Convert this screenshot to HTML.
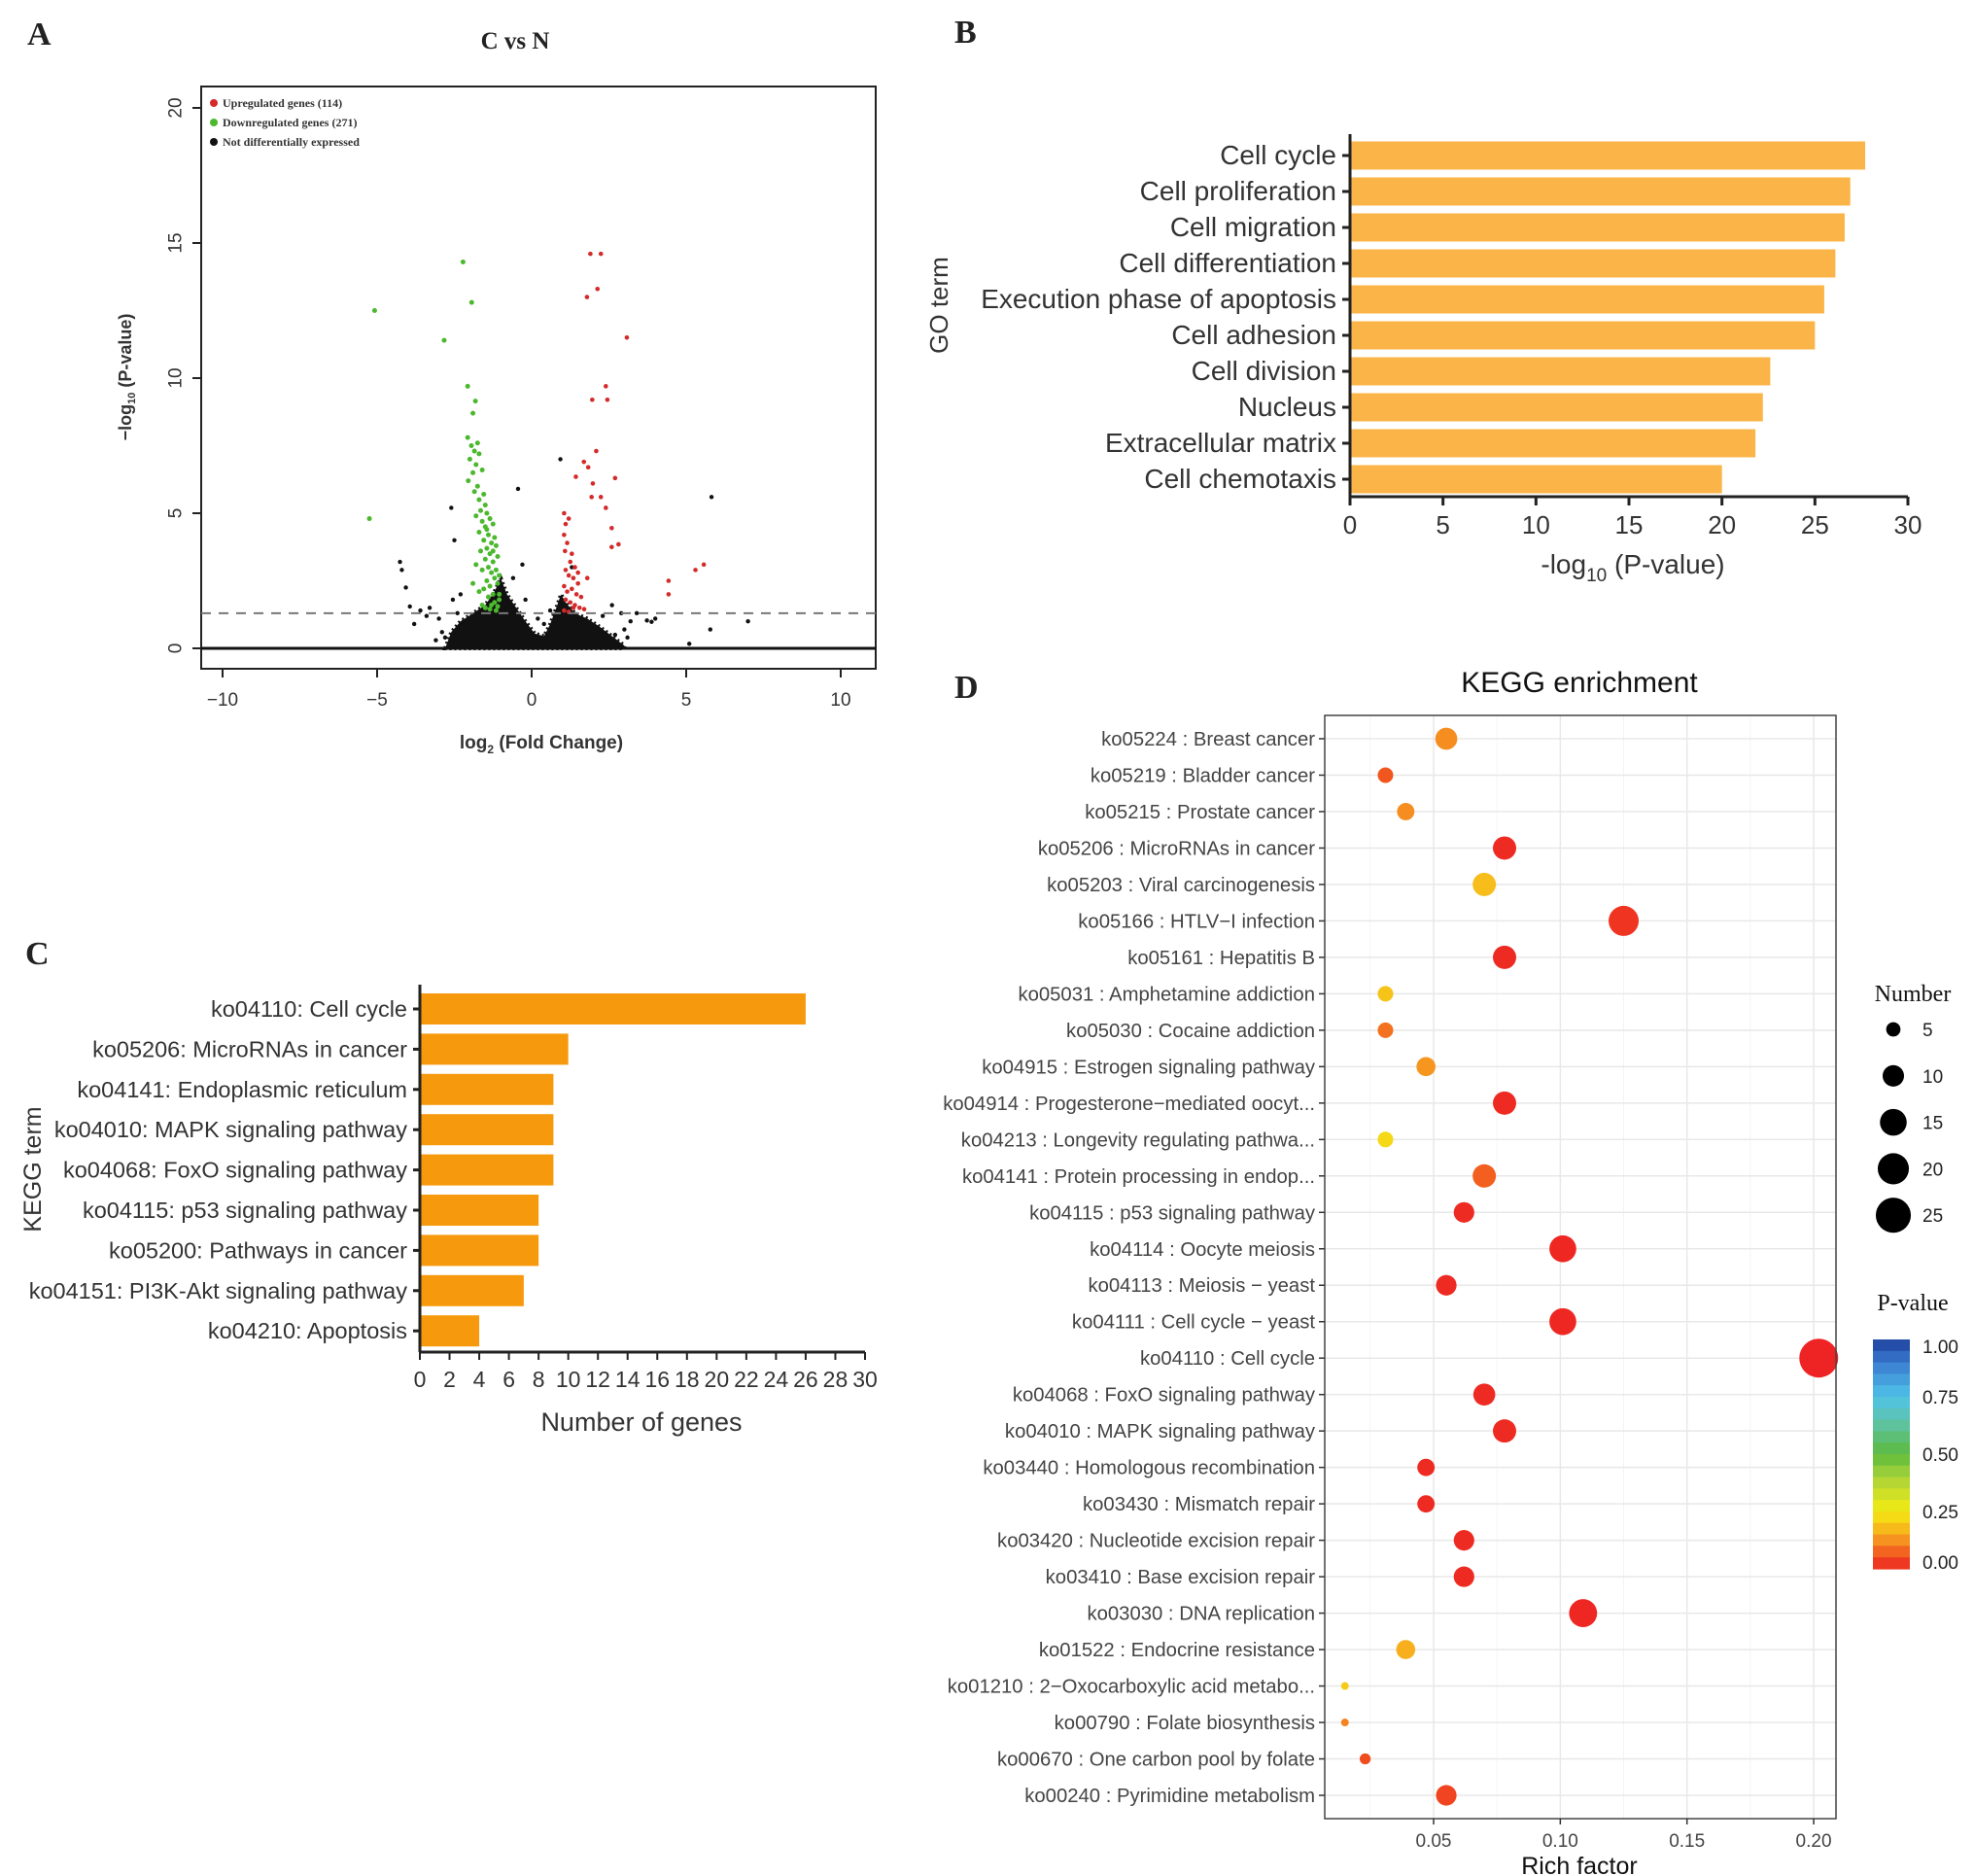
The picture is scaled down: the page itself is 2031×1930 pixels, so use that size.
<!DOCTYPE html>
<html><head><meta charset="utf-8">
<style>
html,body{margin:0;padding:0;background:#fff;}
svg{display:block;}
.serif{font-family:"Liberation Serif",serif;}
.sans{font-family:"Liberation Sans",sans-serif;}
.narrow{font-family:"Liberation Sans Narrow","Liberation Sans",sans-serif;}
</style></head>
<body>
<svg id="fig" width="2031" height="1930" viewBox="0 0 2031 1930" xmlns="http://www.w3.org/2000/svg"></svg>
<script>
// ===== Panel A: volcano data =====
const volDownX=[-5.08,-2.22,-1.94,-2.83,-5.25,-2.07,-1.82,-1.9,-2.07,-1.95,-1.85,-1.75,-2.0,-1.8,-1.7,-1.9,-2.05,-1.6,-1.75,-1.85,-1.55,-1.7,-1.5,-1.65,-1.45,-1.8,-1.6,-1.35,-1.5,-1.7,-1.4,-1.25,-1.55,-1.3,-1.2,-1.45,-1.65,-1.35,-1.15,-1.5,-1.25,-1.1,-1.4,-1.6,-1.3,-1.15,-1.2,-1.45,-1.05,-1.35,-1.55,-1.1,-1.25,-1.4,-1.7,-1.05,-1.2,-1.3,-1.5,-1.1,-1.8,-1.9,-1.15,-1.35,-1.05,-1.6,-1.25,-1.45];
const volDownY=[12.5,14.3,12.8,11.4,4.8,9.7,9.15,8.7,7.8,7.5,7.3,7.6,7.0,6.8,7.2,6.5,6.2,6.6,6.0,5.8,5.7,5.5,5.3,5.1,5.0,4.9,4.7,4.8,4.5,4.3,4.2,4.6,4.0,3.9,4.1,3.7,3.6,3.5,3.8,3.3,3.2,3.4,3.0,2.9,2.8,2.9,2.6,2.5,2.7,2.3,2.2,2.4,2.0,1.9,2.1,1.8,1.7,1.6,1.5,1.55,3.1,2.4,1.4,1.45,2.0,1.6,3.6,4.4];
const volUpX=[1.9,2.24,2.13,1.79,3.08,2.4,1.96,2.45,2.09,1.69,1.83,2.7,1.43,1.98,1.94,2.24,2.4,5.3,5.57,4.43,4.43,2.81,2.59,2.59,1.05,1.1,1.2,1.05,1.15,1.3,1.08,1.25,1.4,1.1,1.2,1.35,1.5,1.05,1.15,1.3,1.45,1.6,1.1,1.25,1.4,1.55,1.7,1.05,1.2,1.35,1.8,1.5];
const volUpY=[14.6,14.6,13.3,13.0,11.5,9.7,9.2,9.2,7.3,6.9,6.7,6.3,6.35,6.1,5.6,5.6,5.2,2.9,3.1,2.5,2.0,3.85,3.75,4.45,5.0,4.6,4.8,4.2,3.9,3.5,3.6,3.2,3.0,2.9,2.7,2.6,2.4,2.3,2.1,2.2,2.0,1.9,1.8,1.7,1.6,1.5,1.45,1.4,1.35,1.5,2.6,2.8];
const volNsX=[0.93,-0.44,-2.6,-2.5,5.82,-4.26,-4.2,-4.07,-3.94,7.0,5.78,5.1,3.73,3.88,-3.3,-2.55,-2.9,-3.6,-3.4,-2.2,-0.3,0.2,2.9,3.2,3.0,-0.6,-3.0,2.6,3.4,-3.8,4.0,-2.3,1.3,0.6,-2.8,-2.4,-0.2,0.4,2.3,2.7,-3.1,3.1];
const volNsY=[7.0,5.9,5.2,4.0,5.6,3.2,2.9,2.25,1.55,1.0,0.7,0.17,1.03,0.98,1.5,1.8,0.6,1.4,1.2,1.0,3.1,1.1,1.3,1.0,0.7,2.6,1.1,1.6,1.3,0.9,1.1,2.0,3.0,1.4,0.4,1.3,1.8,0.9,1.2,0.5,0.3,0.4];
// density cloud outline of non-DE genes (x, y in data units)
const cloudX=[-2.8,-2.6,-2.3,-1.9,-1.5,-1.2,-1.0,-0.8,-0.5,-0.2,0.1,0.4,0.6,0.8,0.95,1.1,1.4,1.8,2.2,2.6,3.0,3.0,-2.8];
const cloudY=[0,0.6,1.0,1.3,1.6,2.1,2.6,2.0,1.5,1.0,0.55,0.45,0.9,1.5,2.0,1.7,1.3,1.1,0.8,0.45,0.1,0,0];
const volYTicks=[0,5,10,15,20];
const volXTicks=[-10,-5,0,5,10];

// ===== Panel B: GO =====
const goTerms=["Cell cycle","Cell proliferation","Cell migration","Cell differentiation","Execution phase of apoptosis","Cell adhesion","Cell division","Nucleus","Extracellular matrix","Cell chemotaxis"];
const goValues=[27.7,26.9,26.6,26.1,25.5,25.0,22.6,22.2,21.8,20.0];
const goTicks=[0,5,10,15,20,25,30];

// ===== Panel C: KEGG bars =====
const keggTerms=["ko04110: Cell cycle","ko05206: MicroRNAs in cancer","ko04141: Endoplasmic reticulum","ko04010: MAPK signaling pathway","ko04068: FoxO signaling pathway","ko04115: p53 signaling pathway","ko05200: Pathways in cancer","ko04151: PI3K-Akt signaling pathway","ko04210: Apoptosis"];
const keggCounts=[26,10,9,9,9,8,8,7,4];
const keggTicks=[0,2,4,6,8,10,12,14,16,18,20,22,24,26,28,30];

// ===== Panel D: KEGG enrichment =====
const dTerms=["ko05224 : Breast cancer","ko05219 : Bladder cancer","ko05215 : Prostate cancer","ko05206 : MicroRNAs in cancer","ko05203 : Viral carcinogenesis","ko05166 : HTLV\u2212I infection","ko05161 : Hepatitis B","ko05031 : Amphetamine addiction","ko05030 : Cocaine addiction","ko04915 : Estrogen signaling pathway","ko04914 : Progesterone\u2212mediated oocyt...","ko04213 : Longevity regulating pathwa...","ko04141 : Protein processing in endop...","ko04115 : p53 signaling pathway","ko04114 : Oocyte meiosis","ko04113 : Meiosis \u2212 yeast","ko04111 : Cell cycle \u2212 yeast","ko04110 : Cell cycle","ko04068 : FoxO signaling pathway","ko04010 : MAPK signaling pathway","ko03440 : Homologous recombination","ko03430 : Mismatch repair","ko03420 : Nucleotide excision repair","ko03410 : Base excision repair","ko03030 : DNA replication","ko01522 : Endocrine resistance","ko01210 : 2\u2212Oxocarboxylic acid metabo...","ko00790 : Folate biosynthesis","ko00670 : One carbon pool by folate","ko00240 : Pyrimidine metabolism"];
const dRich=[0.055,0.031,0.039,0.078,0.070,0.125,0.078,0.031,0.031,0.047,0.078,0.031,0.070,0.062,0.101,0.055,0.101,0.202,0.070,0.078,0.047,0.047,0.062,0.062,0.109,0.039,0.015,0.015,0.023,0.055];
const dCount=[9,5,6,10,10,16,10,5,5,7,10,5,10,8,13,8,13,26,9,10,6,6,8,8,14,7,2,2,3,8];
const dPval=[0.12,0.06,0.12,0.01,0.18,0.02,0.01,0.19,0.09,0.13,0.01,0.22,0.07,0.01,0.005,0.01,0.005,0.0,0.01,0.01,0.01,0.01,0.01,0.01,0.005,0.16,0.2,0.11,0.05,0.04];
const dXTicks=[0.05,0.10,0.15,0.20];
const legendNums=[5,10,15,20,25];
const pTicks=[1.00,0.75,0.50,0.25,0.00];

const NS="http://www.w3.org/2000/svg";
const svg=document.getElementById('fig');
function mk(tag,attrs,parent,txt){const e=document.createElementNS(NS,tag);for(const k in attrs)e.setAttribute(k,attrs[k]);if(txt!==undefined)e.textContent=txt;(parent||svg).appendChild(e);return e;}
function grp(name){const g=mk('g',{});return g;}

[["A",28,46],["B",982,44],["C",26,992],["D",982,718]].forEach(p=>{
  const t=mk('text',{x:p[1],y:p[2],'font-size':34,'font-weight':'bold',class:'serif',fill:'#222'},svg,p[0]);
  
  
});

// ===== Panel A =====
(function(){
  const g=grp('volcano-plot');
  const L=207,R=901,T=89,B=688;
  const xA=v=>547+v*31.8, yA=v=>667-v*27.8;
  const t=mk('text',{x:530,y:50,'text-anchor':'middle','font-size':25,'font-weight':'bold',class:'serif',fill:'#222'},g,'C vs N');
  
  const fr=mk('rect',{x:L,y:T,width:R-L,height:B-T,fill:'none',stroke:'#222','stroke-width':2},g);
  
  let d='';cloudX.forEach((x,i)=>{d+=(i?'L':'M')+xA(x).toFixed(1)+' '+yA(cloudY[i]).toFixed(1);});
  const cl=mk('path',{d:d+'Z',fill:'#111',stroke:'#111','stroke-width':4,'stroke-dasharray':'2 3'},g);
  
  volNsX.forEach((x,i)=>{const c=mk('circle',{cx:xA(x),cy:yA(volNsY[i]),r:2.2,fill:'#111'},g);
    });
  volDownX.forEach((x,i)=>{const c=mk('circle',{cx:xA(x),cy:yA(volDownY[i]),r:2.5,fill:'#4cb82e'},g);
    });
  volUpX.forEach((x,i)=>{const c=mk('circle',{cx:xA(x),cy:yA(volUpY[i]),r:2.3,fill:'#d42a2a'},g);
    });
  const th=mk('line',{x1:L,x2:R,y1:yA(1.3),y2:yA(1.3),stroke:'#777','stroke-width':2,'stroke-dasharray':'10 8'},g);
  
  const zl=mk('line',{x1:L,x2:R,y1:yA(0),y2:yA(0),stroke:'#111','stroke-width':3},g);
  
  volYTicks.forEach(v=>{const y=yA(v);mk('line',{x1:L-9,x2:L,y1:y,y2:y,stroke:'#222','stroke-width':2},g);
    const tx=mk('text',{x:181,y:y,'text-anchor':'middle','font-size':19,class:'sans',fill:'#333',transform:`rotate(-90 181 ${y})`,'dominant-baseline':'central'},g,String(v));
    });
  volXTicks.forEach(v=>{const x=xA(v);mk('line',{x1:x,x2:x,y1:B,y2:B+9,stroke:'#222','stroke-width':2},g);
    const tx=mk('text',{x:x,y:726,'text-anchor':'middle','font-size':19,class:'sans',fill:'#333'},g,v<0?'\u2212'+(-v):String(v));
    });
  const xt=mk('text',{x:557,y:770,'text-anchor':'middle','font-size':19,'font-weight':'bold',class:'sans',fill:'#333'},g);
  xt.innerHTML='log<tspan font-size="12" dy="5">2</tspan><tspan dy="-5"> (Fold Change)</tspan>';
  
  const yt=mk('text',{x:135,y:388,'text-anchor':'middle','font-size':18,'font-weight':'bold',class:'sans',fill:'#333',transform:'rotate(-90 135 388)'},g);
  yt.innerHTML='\u2212log<tspan font-size="11" dy="4">10</tspan><tspan dy="-4"> (P-value)</tspan>';
  
  [["Upregulated genes (114)",'#d42a2a'],["Downregulated genes (271)",'#4cb82e'],["Not differentially expressed",'#111']].forEach((l,i)=>{
    const lg=mk('g',{},g);
    mk('circle',{cx:220,cy:106+i*20,r:4,fill:l[1]},lg);
    mk('text',{x:229,y:110+i*20,'font-size':12,'font-weight':'bold',class:'serif',fill:'#333'},lg,l[0]);
  });
})();

// ===== Panel B =====
(function(){
  const g=grp('go-bar-chart');
  const x0=1389,pxu=(1963-1389)/30,axY=511,c0=160,pitch=37,bh=29;
  const xB=v=>x0+v*pxu;
  goValues.forEach((v,i)=>{const cy=c0+i*pitch;
    const r=mk('rect',{x:x0,y:cy-bh/2,width:xB(v)-x0,height:bh,fill:'#fbb448'},g);
    
    mk('line',{x1:x0-8,x2:x0,y1:cy,y2:cy,stroke:'#222','stroke-width':3},g);
    const t=mk('text',{x:x0-14,y:cy+9,'text-anchor':'end','font-size':28,class:'narrow',fill:'#333'},g,goTerms[i]);
    
  });
  mk('line',{x1:x0,x2:x0,y1:138,y2:axY,stroke:'#222','stroke-width':3},g);
  mk('line',{x1:x0,x2:xB(30),y1:axY,y2:axY,stroke:'#222','stroke-width':3},g);
  goTicks.forEach(v=>{const x=xB(v);mk('line',{x1:x,x2:x,y1:axY,y2:axY+9,stroke:'#222','stroke-width':3},g);
    const t=mk('text',{x:x,y:549,'text-anchor':'middle','font-size':26,class:'narrow',fill:'#333'},g,String(v));
    });
  const xt=mk('text',{x:1680,y:590,'text-anchor':'middle','font-size':28,class:'narrow',fill:'#333'},g);
  xt.innerHTML='-log<tspan font-size="19" dy="8">10</tspan><tspan dy="-8"> (P-value)</tspan>';
  
  const yt=mk('text',{x:975,y:314,'text-anchor':'middle','font-size':26,class:'narrow',fill:'#333',transform:'rotate(-90 975 314)'},g,'GO  term');
  
})();

// ===== Panel C =====
(function(){
  const g=grp('kegg-bar-chart');
  const x0=432,pxu=(890-432)/30,axY=1391,c0=1038,pitch=41.4,bh=32;
  const xC=v=>x0+v*pxu;
  keggCounts.forEach((v,i)=>{const cy=c0+i*pitch;
    const r=mk('rect',{x:x0,y:cy-bh/2,width:xC(v)-x0,height:bh,fill:'#f7990c'},g);
    
    mk('line',{x1:x0-7,x2:x0,y1:cy,y2:cy,stroke:'#222','stroke-width':3},g);
    const t=mk('text',{x:x0-13,y:cy+8,'text-anchor':'end','font-size':23.5,class:'narrow',fill:'#333'},g,keggTerms[i]);
    
  });
  mk('line',{x1:x0,x2:x0,y1:1013,y2:axY,stroke:'#222','stroke-width':3},g);
  mk('line',{x1:x0,x2:xC(30),y1:axY,y2:axY,stroke:'#222','stroke-width':3},g);
  keggTicks.forEach(v=>{const x=xC(v);mk('line',{x1:x,x2:x,y1:axY,y2:axY+8,stroke:'#222','stroke-width':2},g);
    const t=mk('text',{x:x,y:1427,'text-anchor':'middle','font-size':23,class:'narrow',fill:'#333'},g,String(v));
    });
  const xt=mk('text',{x:660,y:1472,'text-anchor':'middle','font-size':27,class:'narrow',fill:'#333'},g,'Number of genes');
  
  const yt=mk('text',{x:42,y:1203,'text-anchor':'middle','font-size':25,class:'narrow',fill:'#333',transform:'rotate(-90 42 1203)'},g,'KEGG  term');
  
})();

// ===== Panel D =====
const pStops=[[0,'#ee2323'],[0.05,'#f04d1f'],[0.1,'#f47b20'],[0.15,'#f8a81f'],[0.2,'#f6cb18'],[0.25,'#f4ec12'],[0.4,'#a9d33a'],[0.5,'#5cbb3b'],[0.65,'#5ec3b0'],[0.75,'#4fc3e8'],[0.9,'#3a7bd0'],[1,'#1c3f9a']];
function hex2rgb(h){return [1,3,5].map(i=>parseInt(h.substr(i,2),16));}
function pcolor(p){for(let i=1;i<pStops.length;i++){if(p<=pStops[i][0]){const a=pStops[i-1],b=pStops[i];const t=(p-a[0])/(b[0]-a[0]);const ca=hex2rgb(a[1]),cb=hex2rgb(b[1]);return 'rgb('+ca.map((c,k)=>Math.round(c+(cb[k]-c)*t)).join(',')+')';}}return pStops[pStops.length-1][1];}
function rad(n){return Math.sqrt(Math.max(16*n-16,14));}
(function(){
  const g=grp('kegg-enrichment-dotplot');
  const L=1363,R=1889,T=736,B=1871,r0=760,pitch=(1847-760)/29;
  const xD=v=>1475+(v-0.05)*2607;
  const t=mk('text',{x:1625,y:712,'text-anchor':'middle','font-size':30,class:'sans',fill:'#111'},g,'KEGG  enrichment');
  
  mk('rect',{x:L,y:T,width:R-L,height:B-T,fill:'#fff'},g);
  [0.025,0.075,0.125,0.175].forEach(v=>mk('line',{x1:xD(v),x2:xD(v),y1:T,y2:B,stroke:'#f4f4f4','stroke-width':1},g));
  dXTicks.forEach(v=>mk('line',{x1:xD(v),x2:xD(v),y1:T,y2:B,stroke:'#e8e8e8','stroke-width':1.5},g));
  dTerms.forEach((n,i)=>{const y=r0+i*pitch;mk('line',{x1:L,x2:R,y1:y,y2:y,stroke:'#e8e8e8','stroke-width':1.5},g);});
  dTerms.forEach((n,i)=>{const y=r0+i*pitch;
    mk('line',{x1:L-6,x2:L,y1:y,y2:y,stroke:'#333','stroke-width':1.5},g);
    const tx=mk('text',{x:L-10,y:y+7,'text-anchor':'end','font-size':20.3,class:'sans',fill:'#444'},g,n);
    
    const c=mk('circle',{cx:xD(dRich[i]),cy:y,r:rad(dCount[i]),fill:pcolor(dPval[i])},g);
    
  });
  const fr=mk('rect',{x:L,y:T,width:R-L,height:B-T,fill:'none',stroke:'#444','stroke-width':1.5},g);
  
  dXTicks.forEach(v=>{const x=xD(v);mk('line',{x1:x,x2:x,y1:B,y2:B+6,stroke:'#333','stroke-width':1.5},g);
    const tx=mk('text',{x:x,y:1900,'text-anchor':'middle','font-size':19,class:'sans',fill:'#444'},g,v.toFixed(2));
    });
  const xt=mk('text',{x:1625,y:1928,'text-anchor':'middle','font-size':25,class:'sans',fill:'#111'},g,'Rich factor');
  
  const sl=mk('g',{},g);
  mk('text',{x:1968,y:1030,'text-anchor':'middle','font-size':24,class:'serif',fill:'#111'},sl,'Number');
  legendNums.forEach((n,i)=>{const y=1059+i*47.8;mk('circle',{cx:1948,cy:y,r:rad(n)*0.92,fill:'#000'},sl);
    mk('text',{x:1978,y:y+7,'font-size':19,class:'sans',fill:'#222'},sl,String(n));});
  const cl=mk('g',{},g);
  mk('text',{x:1968,y:1348,'text-anchor':'middle','font-size':24,class:'serif',fill:'#111'},cl,'P-value');
  const cbT=1378,cbB=1614,nSeg=20;
  for(let k=0;k<nSeg;k++){const p=1-(k+0.5)/nSeg;mk('rect',{x:1927,y:cbT+k*(cbB-cbT)/nSeg,width:38,height:(cbB-cbT)/nSeg+0.6,fill:pcolor(p)},cl);}
  pTicks.forEach(p=>{const y=cbB-(cbB-cbT)*p-(p===1?-7:p===0?7:0);
    mk('text',{x:1978,y:y+7,'font-size':19,class:'sans',fill:'#222'},cl,p.toFixed(2));});
})();
</script>
</body></html>
